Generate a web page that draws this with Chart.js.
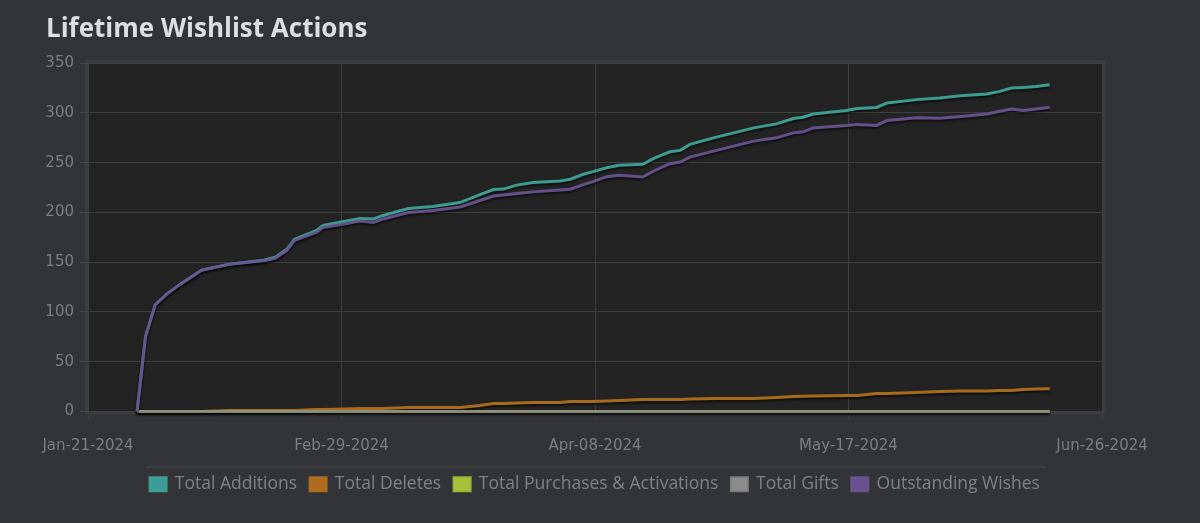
<!DOCTYPE html>
<html>
<head>
<meta charset="utf-8">
<script src="https://cdn.jsdelivr.net/npm/chart.js@4"></script>
<style>
  html, body { margin: 0; padding: 0; background: #323438; }
  #wrap { width: 1200px; height: 523px; }
</style>
</head>
<body>
<div id="wrap"><canvas id="chart1"></canvas></div>
<script>
// days after Jan-21-2024
const days = [7.6, 8.9, 10.4, 12.2, 14.3, 17.6, 21.9, 27.2, 29, 30.8, 32, 35.4, 36.4, 39.6, 42.1, 44.2, 45.7,
  49.6, 53.4, 57.6, 60.7, 62.8, 64.3, 66.4, 68.9, 73.1, 74.7, 76.7, 78.2, 80.3, 82.3, 85.9, 87.6, 90.1, 91.7, 93.2,
  97.3, 103.1, 106.6, 109.2, 110.7, 112.3, 117.4, 119.1, 122.1, 123.7, 128.3, 131.9, 135.1, 139.2, 141.2, 143,
  144.8, 146.8, 148.9];
const additions = [0, 75, 107, 118, 128, 142, 148, 152, 155, 163, 173, 182, 187, 191, 194, 193.5, 197,
  204, 206, 210, 218, 223, 223.5, 227.5, 230, 231.7, 233.4, 238.4, 241, 245, 247.4, 248.4, 254.4, 261, 262.4, 268.4,
  275.7, 285, 289, 294.4, 295.7, 299, 302.4, 304.4, 305.5, 310, 313.4, 315, 317.4, 319, 321.7, 325,
  325.7, 326.7, 328.4];
const deletes = [0, 0, 0, 0, 0, 0, 1, 1, 1, 1, 1, 2, 2, 2.5, 3, 3, 3,
  4, 4, 4, 6, 8, 8, 8.5, 9, 9, 10, 10, 10, 10.5, 11, 12, 12, 12, 12, 12.5,
  13, 13, 14, 15, 15.4, 15.5, 16, 16, 18, 18, 19, 20, 20.5, 20.5, 21, 21,
  22, 22.5, 22.8];
const purchases = [0, 0, 0, 0, 0, 0, 0, 0, 0, 0, 0, 0, 0, 0, 0, 0, 0,
  0, 0, 0, 0, 0, 0, 0, 0, 0, 0, 0, 0, 0, 0, 0, 0, 0, 0, 0,
  0, 0, 0, 0, 0, 0, 0, 0, 0, 0, 0, 0, 0, 0, 0, 0,
  0, 0, 0];
const gifts = [0, 0, 0, 0, 0, 0, 0, 0, 0, 0, 0, 0, 0, 0, 0, 0, 0,
  0, 0, 0, 0, 0, 0, 0, 0, 0, 0, 0, 0, 0, 0, 0, 0, 0, 0, 0,
  0, 0, 0, 0, 0, 0, 0, 0, 0, 0, 0, 0, 0, 0, 0, 0,
  0, 0, 0];
const outstanding = [0, 75, 107, 118, 128, 142, 148, 151.5, 154, 162, 172, 180, 185, 188.5, 191.5, 190, 193.5,
  200, 202, 205.5, 212, 216.5, 217.5, 219, 220.7, 222.5, 223.4, 228, 231, 236, 237.4, 235.7, 241.7, 249, 250.7, 255.7,
  262.4, 271.7, 275, 280, 281, 285, 287.4, 288.5, 287.5, 292.4, 295.2, 294.6, 296.5, 299, 301.7, 304,
  302.4, 304, 305.7];

const seriesNames = ['Total Additions', 'Total Deletes', 'Total Purchases & Activations', 'Total Gifts', 'Outstanding Wishes'];
const seriesValues = [additions, deletes, purchases, gifts, outstanding];
const lineColors = ['rgba(62,163,150,0.95)', 'rgba(176,112,30,0.95)', 'rgba(164,194,58,0.9)', 'rgba(140,140,140,0.8)', 'rgba(108,86,150,0.9)'];
const boxColors = ['#3c9c9c', '#b06a1e', '#a5c23a', '#8c8c8c', '#6a4f90'];
const monthNames = ['Jan', 'Feb', 'Mar', 'Apr', 'May', 'Jun', 'Jul', 'Aug', 'Sep', 'Oct', 'Nov', 'Dec'];

function dayLabel(d) {
  let dt = new Date(Date.UTC(2024, 0, 21 + Math.floor(d + 0.001)));
  let dd = String(dt.getUTCDate()).padStart(2, '0');
  return monthNames[dt.getUTCMonth()] + '-' + dd + '-' + dt.getUTCFullYear();
}

// dark plot area with frame, shadow under the lines, line above legend
const decor = {
  id: 'decor',
  beforeDraw(chart) {
    let ctx = chart.ctx, a = chart.chartArea;
    ctx.save();
    ctx.fillStyle = '#232323';
    ctx.fillRect(a.left, a.top, a.right - a.left, a.bottom - a.top);
    ctx.strokeStyle = '#3c3d40';
    ctx.lineWidth = 3;
    ctx.strokeRect(a.left - 1.5, a.top - 1.5, a.right - a.left + 3, a.bottom - a.top + 3);
    ctx.restore();
  },
  beforeDatasetsDraw(chart) {
    let ctx = chart.ctx;
    ctx.save();
    ctx.shadowColor = 'rgba(0,0,0,0.6)';
    ctx.shadowOffsetY = 2;
    ctx.shadowBlur = 2;
  },
  afterDatasetsDraw(chart) {
    chart.ctx.restore();
  },
  afterDraw(chart) {
    let lg = chart.legend;
    if (!lg || !lg.legendHitBoxes.length) return;
    let boxes = lg.legendHitBoxes;
    let first = boxes[0], last = boxes[boxes.length - 1];
    let ctx = chart.ctx;
    ctx.save();
    ctx.strokeStyle = '#45474b';
    ctx.lineWidth = 1;
    ctx.beginPath();
    ctx.moveTo(first.left - 4, first.top - 8.5);
    ctx.lineTo(last.left + last.width + 6, first.top - 8.5);
    ctx.stroke();
    ctx.restore();
  }
};

window.onload = function () {
  let chart1 = document.getElementById('chart1').getContext('2d');

  let datasets = seriesNames.map(function (name, i) {
    return {
      label: name,
      data: days.map(function (d, j) { return { x: d, y: seriesValues[i][j] }; }),
      borderColor: lineColors[i],
      backgroundColor: boxColors[i],
      borderWidth: 3,
      pointRadius: 0,
      tension: 0,
      clip: false,
      order: 5 - i
    };
  });

  let lineChart = new Chart(chart1, {
    type: 'line',
    data: { datasets: datasets },
    options: {
      responsive: true,
      maintainAspectRatio: false,
      animation: false,
      layout: { padding: { left: 46, right: 98, top: 0, bottom: 20 } },
      plugins: {
        title: {
          display: true,
          text: 'Lifetime Wishlist Actions',
          align: 'start',
          color: '#dcdee0',
          font: { family: 'Open Sans', size: 26, weight: 'bold' },
          padding: { top: 14, bottom: 18 }
        },
        legend: {
          position: 'bottom',
          fullSize: false,
          labels: {
            color: '#808285',
            font: { family: 'Open Sans', size: 17.5 },
            boxWidth: 16,
            boxHeight: 13,
            padding: 13,
            sort: function (a, b) { return a.datasetIndex - b.datasetIndex; }
          }
        },
        tooltip: { enabled: false }
      },
      scales: {
        x: {
          type: 'linear',
          min: 0,
          max: 157,
          border: { display: false },
          grid: { color: '#3e3e3e', tickLength: 8, tickColor: '#3e3e3e' },
          ticks: {
            stepSize: 39.25,
            color: '#7c7e82',
            font: { family: 'DejaVu Sans', size: 15 },
            padding: 18,
            maxRotation: 0,
            callback: function (v) { return dayLabel(v); }
          },
          afterFit: function (s) {
            s.height -= 11;
            s.paddingLeft = 0;
            s.paddingRight = 0;
          }
        },
        y: {
          min: 0,
          max: 350,
          border: { display: false },
          grid: { color: '#3e3e3e', tickLength: 8, tickColor: '#46484c' },
          ticks: {
            stepSize: 50,
            color: '#7c7e82',
            font: { family: 'DejaVu Sans', size: 15 },
            padding: 6
          },
          afterFit: function (s) { s.width = 42; }
        }
      }
    },
    plugins: [decor]
  });
};
</script>
</body>
</html>
